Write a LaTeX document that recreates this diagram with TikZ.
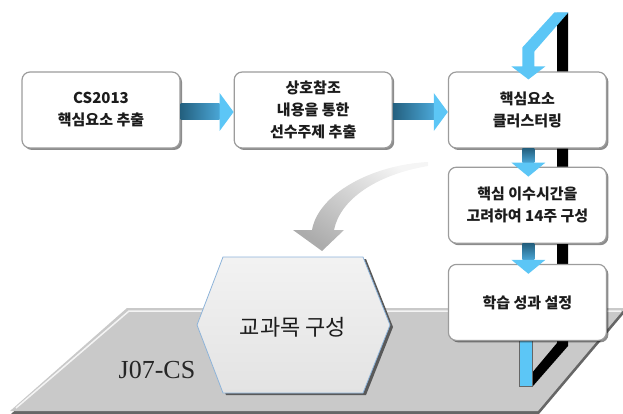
\documentclass[tikz,border=0pt]{standalone}
\usepackage{fontspec}
\setmainfont{Liberation Serif}
\newfontfamily\kr{Noto Sans CJK KR}
\usetikzlibrary{positioning,calc,shadows}

\definecolor{arrowdark}{HTML}{24607F}
\definecolor{arrowmid}{HTML}{4AA6D6}
\definecolor{arrowlight}{HTML}{5CC6F6}
\definecolor{boxline}{HTML}{9C9C9C}
\definecolor{platgray}{HTML}{C9C9C9}
\definecolor{hexline}{HTML}{8DB3D9}
\definecolor{txtdark}{HTML}{1C1C1C}

\tikzset{
  stepbox/.style={draw=boxline, line width=1.2pt, fill=white, rounded corners=8pt,
    minimum width=158pt, minimum height=76pt, align=center, inner sep=0pt,
    font=\kr\bfseries\fontsize{15}{22}\selectfont, text=txtdark,
    drop shadow={shadow xshift=2pt, shadow yshift=-2pt, fill=black, opacity=0.45}},
}

\begin{document}
\begin{tikzpicture}[x=1pt,y=1pt]

% Page frame (pixel grid, y downwards as negative)
\useasboundingbox (0,0) rectangle (623,-414);

% Platform with shadow and highlight
\fill[black!60] (11,-414) -- (128,-311) -- (626,-311) -- (539,-414) -- cycle;
\fill[platgray] (10,-411) -- (127,-308) -- (625,-308) -- (538,-411) -- cycle;
\draw[white, line width=1.5pt, opacity=0.8] (16,-408) -- (129,-311) -- (621,-311);

% Hexagon for the course
\fill[black!65] (226,-259) -- (366,-259) -- (393,-327) -- (366,-395) -- (226,-395) -- (200,-327) -- cycle;
\shade[top color=gray!10, bottom color=gray!22, draw=hexline, line width=0.8pt]
  (223,-257) -- (363,-257) -- (390,-325) -- (363,-393) -- (223,-393) -- (197,-325) -- cycle;
\node[font=\kr\fontsize{22}{26}\selectfont, text=txtdark] (course) at (293,-327) {교과목 구성};

% Platform label
\node[font=\fontsize{26}{30}\selectfont, text=black!85] (tag) at (157,-370) {J07-CS};

% Black back edge of the frame
\fill[black] (557,-13) -- (568,-13) -- (568,-346) -- (533,-386) -- (526,-380) -- (557,-343) -- cycle;

% Blue front post
\filldraw[fill=arrowlight, draw=black!60, line width=0.6pt] (519,-336) rectangle (532,-386);

% Step boxes
\node[stepbox] (extract) at (101,-110) {CS2013\\핵심요소 추출};
\node[stepbox, right=53pt of extract] (prereq) {상호참조\\내용을 통한\\선수주제 추출};
\node[stepbox, right=55pt of prereq] (cluster) {핵심요소\\클러스터링};
\node[stepbox, below=18pt of cluster] (hours) {핵심 이수시간을\\고려하여 14주 구성};
\node[stepbox, below=20pt of hours] (outcome) {학습 성과 설정};

% Horizontal arrows
\foreach \a/\b in {extract/prereq, prereq/cluster} {
  \shade[left color=arrowdark, right color=arrowmid]
    ($(\a.east)+(0,6)$) rectangle ($(\b.west)+(-14,-10)$);
  \fill[arrowlight] ($(\b.west)+(-14,17)$) -- ($(\b.west)+(0,-2)$) -- ($(\b.west)+(-14,-21)$) -- cycle;
}

% Vertical arrows
\foreach \a/\b in {cluster/hours, hours/outcome} {
  \shade[top color=arrowdark, bottom color=arrowmid]
    ($(\a.south)+(-5,0)$) rectangle ($(\b.north)+(7,4)$);
  \fill[arrowlight] ($(\b.north)+(-16,4)$) -- ($(\b.north)+(18,4)$) -- ($(\b.north)+(1,-10)$) -- cycle;
}

% Bent arrow entering from the top
\begin{scope}[shift={(cluster.north)}]
  \fill[arrowlight] (27,59) -- (41,59) -- (7,20) -- (7,5) -- (18,5) -- (1,-8) -- (-16,5)
    -- (-5,5) -- (-5,24) -- cycle;
\end{scope}

% Curved gray arrow down to the course
\shade[top color=gray!8, bottom color=gray!65, shading angle=-35]
  (428,-162) .. controls (370,-165) and (318,-195) .. (312,-230)
  -- (293,-230) -- (322,-251) -- (344,-230) -- (334,-230)
  .. controls (340,-200) and (375,-175) .. (428,-166) -- cycle;

\end{tikzpicture}
\end{document}
